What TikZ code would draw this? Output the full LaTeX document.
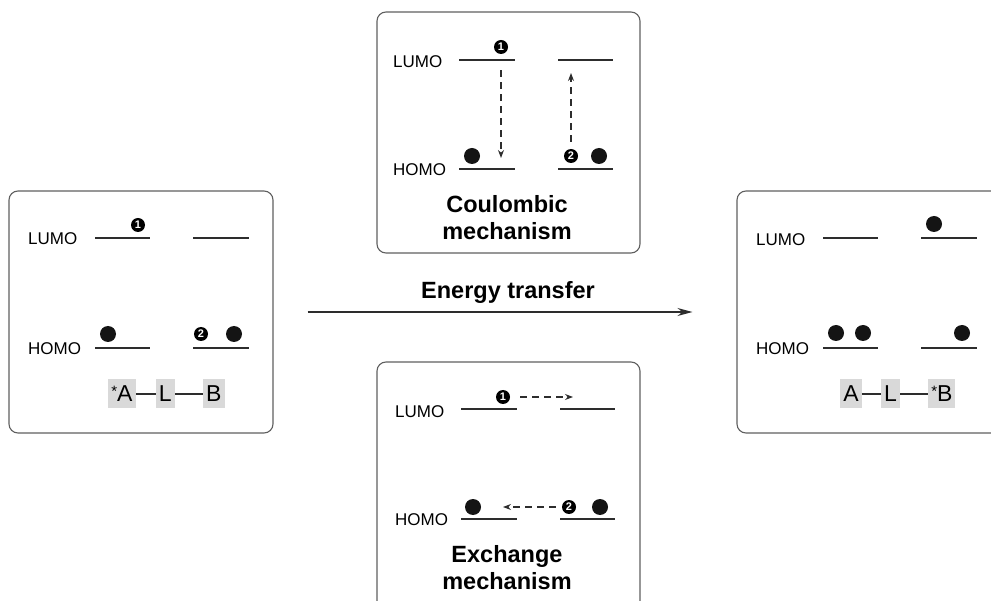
\documentclass[tikz,border=0pt]{standalone}
\usepackage{fontspec}
\setmainfont{Liberation Sans}
\usetikzlibrary{positioning, arrows.meta}
\definecolor{FrameGray}{RGB}{95, 95, 95}
\definecolor{LevelGray}{RGB}{45, 45, 45}
\definecolor{UnitGray}{RGB}{217, 217, 217}

\tikzset{
  panel/.style={draw=FrameGray, line width=1.1pt, rounded corners=9pt, inner sep=0pt},
  level/.style={draw=LevelGray, line width=2.2pt},
  orbital/.style={anchor=west, inner sep=0pt, font=\fontsize{17}{19}\selectfont},
  electron/.style={circle, fill=black!92, minimum size=16pt, inner sep=0pt},
  tag/.style={circle, fill=black, text=white, minimum size=14pt, inner sep=0pt, font=\fontsize{11}{11}\selectfont\bfseries},
  unit/.style={fill=UnitGray, minimum height=29pt, inner xsep=3pt, inner ysep=0pt, font=\fontsize{23}{23}\selectfont},
  link/.style={draw=LevelGray, line width=1.3pt},
  caption/.style={align=center, font=\fontsize{23.5}{27}\selectfont\bfseries},
  hop/.style={draw=LevelGray, dash pattern=on 7pt off 5pt, line width=1.1pt, -{Stealth[length=8pt, width=6pt]}},
  transfer/.style={draw=LevelGray, line width=1.3pt, -{Stealth[length=15pt, width=8pt]}}
}
\newcommand{\starred}[1]{{\fontsize{15}{15}\selectfont\raisebox{5pt}{*}}#1}

\begin{document}
\begin{tikzpicture}[x=1pt, y=-1pt]
  \useasboundingbox (0,0) rectangle (991,601);
  \clip (0,0) rectangle (991,601);

  % Panels
  \node[panel, minimum width=264pt, minimum height=242pt] (donor) at (141,312) {};
  \node[panel, minimum width=263pt, minimum height=241pt] (coulomb) at (508.5,132.5) {};
  \node[panel, minimum width=263pt, minimum height=278pt] (exchange) at (508.5,501) {};
  \node[panel, minimum width=263pt, minimum height=242pt] (acceptor) at (868.5,312) {};

  % Energy transfer
  \draw[transfer, shorten <=34pt, shorten >=44pt] (donor.east) -- (acceptor.west);
  \node[caption] (etLabel) at (508,292) {Energy transfer};

  % Donor side: *A-L-B
  \node[orbital] (dLumo) at (28,239) {LUMO};
  \node[orbital] (dHomo) at (28,349) {HOMO};
  \foreach \xa/\xb in {95/150, 193/249} {
    \foreach \y in {238, 348} {
      \draw[level] (\xa,\y) -- (\xb,\y);
    }
  }
  \node[tag] (dL1) at (138,225) {1};
  \node[electron] (dH1) at (108,334) {};
  \node[tag] (dH2) at (201,334) {2};
  \node[electron] (dH3) at (234,334) {};
  \node[unit] (dA) at (122,394) {\starred{A}};
  \node[unit, right=20pt of dA] (dL) {L};
  \node[unit, right=28pt of dL] (dB) {B};
  \draw[link] (dA) -- (dL);
  \draw[link] (dL) -- (dB);

  % Coulombic mechanism
  \node[orbital] (cLumo) at (393,62) {LUMO};
  \node[orbital] (cHomo) at (393,170) {HOMO};
  \foreach \xa/\xb in {459/515, 558/613} {
    \foreach \y in {60, 169} {
      \draw[level] (\xa,\y) -- (\xb,\y);
    }
  }
  \node[tag] (cL1) at (501,47) {1};
  \node[electron] (cH1) at (472,156) {};
  \node[tag] (cH2) at (571,156) {2};
  \node[electron] (cH3) at (599,156) {};
  \coordinate (cDownEnd) at (501,158);
  \coordinate (cUpEnd) at (571,73);
  \draw[hop] ([yshift=-16pt]cL1.south) -- (cDownEnd);
  \draw[hop] ([yshift=7pt]cH2.north) -- (cUpEnd);
  \node[caption] (cName) at (507,218) {Coulombic\\mechanism};

  % Exchange mechanism
  \node[orbital] (xLumo) at (395,412) {LUMO};
  \node[orbital] (xHomo) at (395,520) {HOMO};
  \foreach \xa/\xb in {461/517, 560/615} {
    \foreach \y in {409, 519} {
      \draw[level] (\xa,\y) -- (\xb,\y);
    }
  }
  \node[tag] (xL1) at (503,397) {1};
  \node[electron] (xH1) at (473,507) {};
  \node[tag] (xH2) at (569,507) {2};
  \node[electron] (xH3) at (600,507) {};
  \coordinate (xRightEnd) at (573,397);
  \coordinate (xLeftEnd) at (503,507);
  \draw[hop] ([xshift=10pt]xL1.east) -- (xRightEnd);
  \draw[hop] ([xshift=-6pt]xH2.west) -- (xLeftEnd);
  \node[caption] (xName) at (507,568) {Exchange\\mechanism};

  % Acceptor side: A-L-*B
  \node[orbital] (aLumo) at (756,240) {LUMO};
  \node[orbital] (aHomo) at (756,349) {HOMO};
  \foreach \xa/\xb in {823/878, 921/977} {
    \foreach \y in {238, 348} {
      \draw[level] (\xa,\y) -- (\xb,\y);
    }
  }
  \node[electron] (aL1) at (934,224) {};
  \node[electron] (aH1) at (836,333) {};
  \node[electron] (aH2) at (863,333) {};
  \node[electron] (aH3) at (962,333) {};
  \node[unit] (aA) at (851,394) {A};
  \node[unit, right=19pt of aA] (aL) {L};
  \node[unit, right=28pt of aL] (aB) {\starred{B}};
  \draw[link] (aA) -- (aL);
  \draw[link] (aL) -- (aB);
\end{tikzpicture}
\end{document}
